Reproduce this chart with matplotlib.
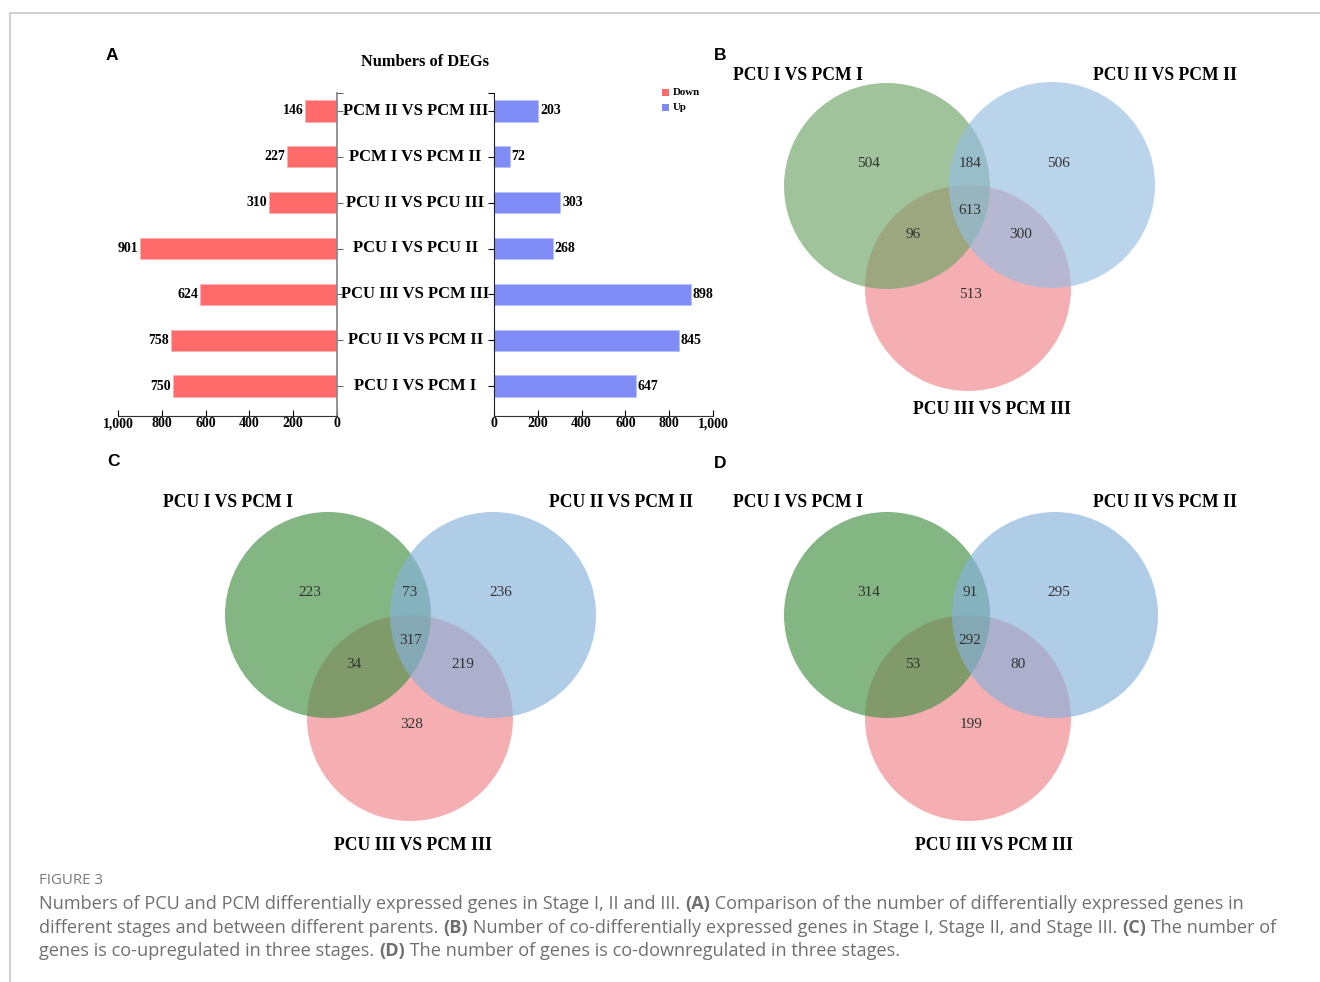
import matplotlib
matplotlib.use("Agg")
import matplotlib.pyplot as plt
from matplotlib.patches import Circle, Rectangle
from matplotlib.lines import Line2D
import matplotlib.transforms as mtransforms

# ---------------- data ----------------
comparisons = ["PCU I VS PCM I", "PCU II VS PCM II", "PCU III VS PCM III",
               "PCU I VS PCU II", "PCU II VS PCU III", "PCM I VS PCM II",
               "PCM II VS PCM III"]
down_counts = [750, 758, 624, 901, 310, 227, 146]
up_counts = [647, 845, 898, 268, 303, 72, 203]
x_ticks = [0, 200, 400, 600, 800, 1000]
x_tick_labels = ["0", "200", "400", "600", "800", "1,000"]

set_names = ["PCU I VS PCM I", "PCU II VS PCM II", "PCU III VS PCM III"]
# region order: only1, 1&2, only2, 1&2&3, 1&3, 2&3, only3
venn_all = [504, 184, 506, 613, 96, 300, 513]
venn_up = [223, 73, 236, 317, 34, 219, 328]
venn_down = [314, 91, 295, 292, 53, 80, 199]

RED = "#FF6B6B"
BLUE = "#7F8CF6"
SERIF = "Liberation Serif"
SANS = "Liberation Sans"

W, H = 1320, 982
fig = plt.figure(figsize=(W / 100, H / 100), dpi=100)
fig.patch.set_facecolor("white")


def fx(px):
    return px / W


def fy(py):
    return 1 - py / H


# background canvas in pixel coordinates for venns, frame and captions
canvas = fig.add_axes([0, 0, 1, 1], zorder=0)
canvas.set_xlim(0, W)
canvas.set_ylim(H, 0)
canvas.axis("off")

# frame lines
canvas.add_line(Line2D([10, W], [13, 13], color="#c8c8c8", lw=1.2))
canvas.add_line(Line2D([10, 10], [13, H], color="#c8c8c8", lw=1.2))

# ---------------- panel A ----------------
ax_top, ax_bot = 93, 416
n = len(comparisons)
pos = list(range(n))
step = (386 - 111) / (n - 1)
y_lo = -(ax_bot - 386) / step
y_hi = (n - 1) + (111 - ax_top) / step
bar_h = 0.46

axL = fig.add_axes([fx(118), fy(ax_bot), fx(337 - 118), fy(ax_top) - fy(ax_bot)], zorder=2)
axR = fig.add_axes([fx(494), fy(ax_bot), fx(713 - 494), fy(ax_top) - fy(ax_bot)], zorder=2)

for ax in (axL, axR):
    ax.patch.set_alpha(0)
    ax.set_ylim(y_lo, y_hi)
    ax.spines["top"].set_visible(False)
    ax.set_xticks(x_ticks)
    ax.set_xticklabels(x_tick_labels, fontfamily=SERIF, fontweight="bold", fontsize=10)
    ax.tick_params(axis="x", direction="in", length=4, width=0.8, pad=1)
    ax.set_yticks(pos + [y_hi - 0.01])
    ax.set_yticklabels([])
    ax.tick_params(axis="y", direction="out", length=4, width=0.8)

axL.barh(pos, down_counts, height=bar_h, color=RED, edgecolor="#ffb0b0", linewidth=0.6)
axL.set_xlim(1000, 0)
axL.spines["left"].set_visible(False)
axL.spines["right"].set_color("#8a8a8a")
axL.spines["right"].set_linewidth(1.3)
axL.spines["bottom"].set_color("#333333")
axL.yaxis.tick_right()
axL.tick_params(axis="y", colors="#666666")

axR.barh(pos, up_counts, height=bar_h, color=BLUE, edgecolor="#b8c0ff", linewidth=0.6)
axR.set_xlim(0, 1000)
axR.spines["right"].set_visible(False)
axR.spines["left"].set_color("#222222")
axR.spines["bottom"].set_color("#333333")

for p, v in zip(pos, down_counts):
    axL.text(v + 8, p, str(v), ha="right", va="center", fontfamily=SERIF,
             fontweight="bold", fontsize=10)
for p, v in zip(pos, up_counts):
    axR.text(v + 8, p, str(v), ha="left", va="center", fontfamily=SERIF,
             fontweight="bold", fontsize=10)

mid_tr = mtransforms.blended_transform_factory(fig.transFigure, axL.transData)
for p, name in zip(pos, comparisons):
    fig.text(fx(415.5), p, name, transform=mid_tr, ha="center", va="center",
             fontfamily=SERIF, fontweight="bold", fontsize=12, zorder=3)

canvas.text(425, 62, "Numbers of DEGs", ha="center", va="center", fontfamily=SERIF,
            fontweight="bold", fontsize=11.8)

# legend
for (label, col, yy) in (("Down", RED, 92), ("Up", BLUE, 107)):
    canvas.add_patch(Rectangle((662, yy - 3.5), 7, 7, facecolor=col, edgecolor="none"))
    canvas.text(673, yy, label, ha="left", va="center", fontfamily=SERIF,
                fontweight="bold", fontsize=7.8)

# ---------------- panels B, C, D ----------------
venn_panels = [
    dict(counts=venn_all, green="#6DA465", blue="#95BEE2", red="#F18489",
         centers=[(887, 186), (1052, 185), (968, 288)],
         name_pos=[(798, 75), (1165, 75), (992, 410)],
         num_pos=[(869, 163), (970, 163), (1059, 163), (970, 210),
                  (913, 234), (1021, 234), (970, 295)]),
    dict(counts=venn_up, green="#438F43", blue="#86B2DD", red="#F18489",
         centers=[(328, 615), (493, 615), (410, 718)],
         name_pos=[(228, 502), (621, 502), (413, 846)],
         num_pos=[(310, 593), (410, 593), (501, 593), (411, 640),
                  (354, 664), (463, 664), (412, 725)]),
    dict(counts=venn_down, green="#438F43", blue="#86B2DD", red="#F18489",
         centers=[(887, 615), (1055, 615), (968, 718)],
         name_pos=[(798, 502), (1165, 502), (994, 846)],
         num_pos=[(869, 593), (970, 593), (1059, 593), (970, 640),
                  (913, 664), (1018, 664), (971, 725)]),
]

R = 103
for pnl in venn_panels:
    (g, b, r) = pnl["centers"]
    canvas.add_patch(Circle(r, R, facecolor=pnl["red"], edgecolor="none", alpha=0.65))
    canvas.add_patch(Circle(g, R, facecolor=pnl["green"], edgecolor="none", alpha=0.65))
    canvas.add_patch(Circle(b, R, facecolor=pnl["blue"], edgecolor="none", alpha=0.65))
    for (x, y), name in zip(pnl["name_pos"], set_names):
        canvas.text(x, y, name, ha="center", va="center", fontfamily=SERIF,
                    fontweight="bold", fontsize=12.7)
    for (x, y), v in zip(pnl["num_pos"], pnl["counts"]):
        canvas.text(x, y, str(v), ha="center", va="center", fontfamily=SERIF,
                    fontsize=11, color="#333333")

# panel letters
for letter, (x, y) in zip("ABCD", [(112, 55), (720, 55), (113, 462), (720, 463)]):
    canvas.text(x, y, letter, ha="center", va="center", fontfamily=SANS,
                fontweight="bold", fontsize=12.5)

# ---------------- caption ----------------
CAP_FONT = "Open Sans"
CAP_COLOR = "#6f6f6f"
canvas.text(39, 880, "FIGURE 3", ha="left", va="center", fontfamily=CAP_FONT,
            fontsize=10.8, color="#7a7a7a")

caption_lines = [
    [("Numbers of PCU and PCM differentially expressed genes in Stage I, II and III. ", False),
     ("(A)", True),
     (" Comparison of the number of differentially expressed genes in", False)],
    [("different stages and between different parents. ", False),
     ("(B)", True),
     (" Number of co-differentially expressed genes in Stage I, Stage II, and Stage III. ", False),
     ("(C)", True),
     (" The number of", False)],
    [("genes is co-upregulated in three stages. ", False),
     ("(D)", True),
     (" The number of genes is co-downregulated in three stages.", False)],
]
line_y = [904, 928, 951]

renderer = fig.canvas.get_renderer()
for segs, yy in zip(caption_lines, line_y):
    x_px = 39.0
    for txt, bold in segs:
        t = fig.text(fx(x_px), fy(yy), txt, ha="left", va="center", fontfamily=CAP_FONT,
                     fontsize=13.1, color=CAP_COLOR,
                     fontweight="bold" if bold else "normal")
        bb = t.get_window_extent(renderer=renderer)
        x_px += bb.width

fig.savefig("out.png", dpi=100, facecolor="white")
